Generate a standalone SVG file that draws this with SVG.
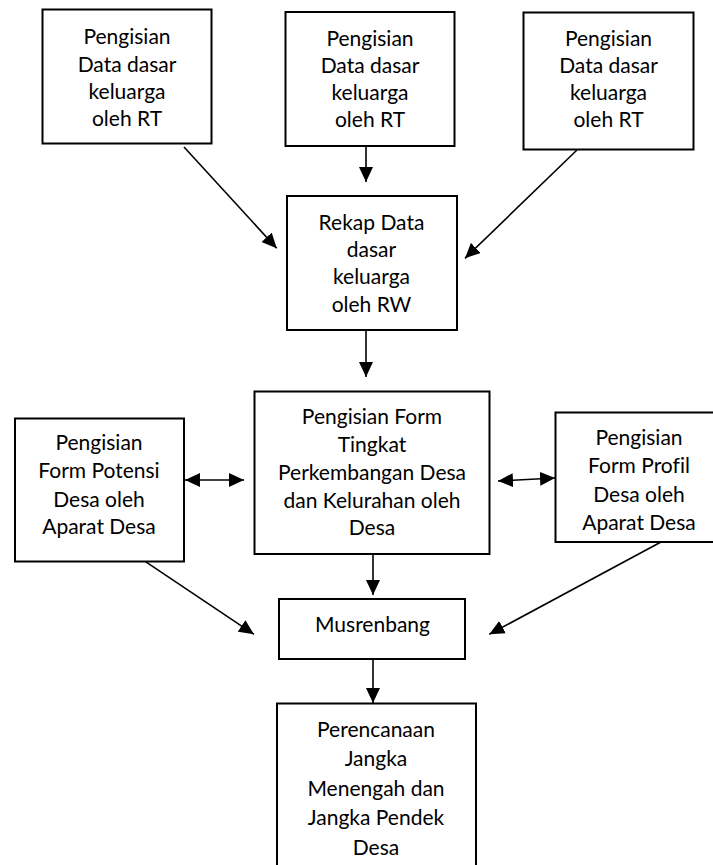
<svg xmlns="http://www.w3.org/2000/svg" width="713" height="865" viewBox="0 0 713 865">
<style>
.box{fill:#fff;stroke:#000;stroke-width:2}
.t{font-family:Lato,"Liberation Sans",sans-serif;font-size:21px;fill:#000;text-anchor:middle;font-variant-ligatures:none}
.c{stroke:#000;stroke-width:1.6;fill:none}
</style>
<defs>
<marker id="ah" markerUnits="userSpaceOnUse" markerWidth="16" markerHeight="14" refX="15" refY="7" orient="auto-start-reverse" viewBox="0 0 16 14">
<path d="M0,0 L15,7 L0,14 z" fill="#000"/>
</marker>
</defs>
<rect width="713" height="865" fill="#fff"/>
<g id="rt1">
<rect class="box" x="42.5" y="9.5" width="169" height="134"/>
<text class="t" x="127" y="44">Pengisian</text>
<text class="t" x="127" y="71.5">Data dasar</text>
<text class="t" x="127" y="98.5">keluarga</text>
<text class="t" x="127" y="125.5">oleh RT</text>
</g>
<g id="rt2">
<rect class="box" x="285.5" y="12" width="169" height="134"/>
<text class="t" x="370" y="45.5">Pengisian</text>
<text class="t" x="370" y="73">Data dasar</text>
<text class="t" x="370" y="100">keluarga</text>
<text class="t" x="370" y="127">oleh RT</text>
</g>
<g id="rt3">
<rect class="box" x="523.5" y="12.5" width="170" height="137"/>
<text class="t" x="608.5" y="45.5">Pengisian</text>
<text class="t" x="608.5" y="73">Data dasar</text>
<text class="t" x="608.5" y="100">keluarga</text>
<text class="t" x="608.5" y="127">oleh RT</text>
</g>
<g id="rw">
<rect class="box" x="287" y="196" width="170" height="134"/>
<text class="t" x="371.5" y="229.5">Rekap Data</text>
<text class="t" x="371.5" y="256.5">dasar</text>
<text class="t" x="371.5" y="284">keluarga</text>
<text class="t" x="371.5" y="311.5">oleh RW</text>
</g>
<g id="potensi">
<rect class="box" x="15" y="418.5" width="169" height="143"/>
<text class="t" x="99" y="450">Pengisian</text>
<text class="t" x="99" y="478">Form Potensi</text>
<text class="t" x="99" y="506.5">Desa oleh</text>
<text class="t" x="99" y="534">Aparat Desa</text>
</g>
<g id="tingkat">
<rect class="box" x="254.5" y="391.5" width="235" height="162.5"/>
<text class="t" x="372" y="424">Pengisian Form</text>
<text class="t" x="372" y="451.5">Tingkat</text>
<text class="t" x="372" y="480">Perkembangan Desa</text>
<text class="t" x="372" y="507.5">dan Kelurahan oleh</text>
<text class="t" x="372" y="535">Desa</text>
</g>
<g id="profil">
<rect class="box" x="555.5" y="412.5" width="168" height="129.5"/>
<text class="t" x="639" y="445">Pengisian</text>
<text class="t" x="639" y="473">Form Profil</text>
<text class="t" x="639" y="501.5">Desa oleh</text>
<text class="t" x="639" y="530">Aparat Desa</text>
</g>
<g id="musrenbang">
<rect class="box" x="279" y="599" width="186" height="60"/>
<text class="t" x="372.5" y="632">Musrenbang</text>
</g>
<g id="perencanaan">
<rect class="box" x="277" y="703.5" width="199" height="170"/>
<text class="t" x="376" y="736.5">Perencanaan</text>
<text class="t" x="376" y="766">Jangka</text>
<text class="t" x="376" y="795.5">Menengah dan</text>
<text class="t" x="376" y="825">Jangka Pendek</text>
<text class="t" x="376" y="855">Desa</text>
</g>
<g id="connectors">
<line class="c" x1="184" y1="147" x2="276.7" y2="248.3" marker-end="url(#ah)"/>
<line class="c" x1="366" y1="146" x2="366" y2="182" marker-end="url(#ah)"/>
<line class="c" x1="577" y1="150" x2="465" y2="258.3" marker-end="url(#ah)"/>
<line class="c" x1="366" y1="330" x2="366" y2="377" marker-end="url(#ah)"/>
<line class="c" x1="185" y1="480" x2="244" y2="480" marker-start="url(#ah)" marker-end="url(#ah)"/>
<line class="c" x1="498" y1="481" x2="555" y2="478" marker-start="url(#ah)" marker-end="url(#ah)"/>
<line class="c" x1="373" y1="554" x2="373" y2="595" marker-end="url(#ah)"/>
<line class="c" x1="145.5" y1="561.7" x2="254" y2="634.3" marker-end="url(#ah)"/>
<line class="c" x1="661" y1="542" x2="489.3" y2="634.3" marker-end="url(#ah)"/>
<line class="c" x1="373" y1="659" x2="373" y2="703" marker-end="url(#ah)"/>
</g>
</svg>
